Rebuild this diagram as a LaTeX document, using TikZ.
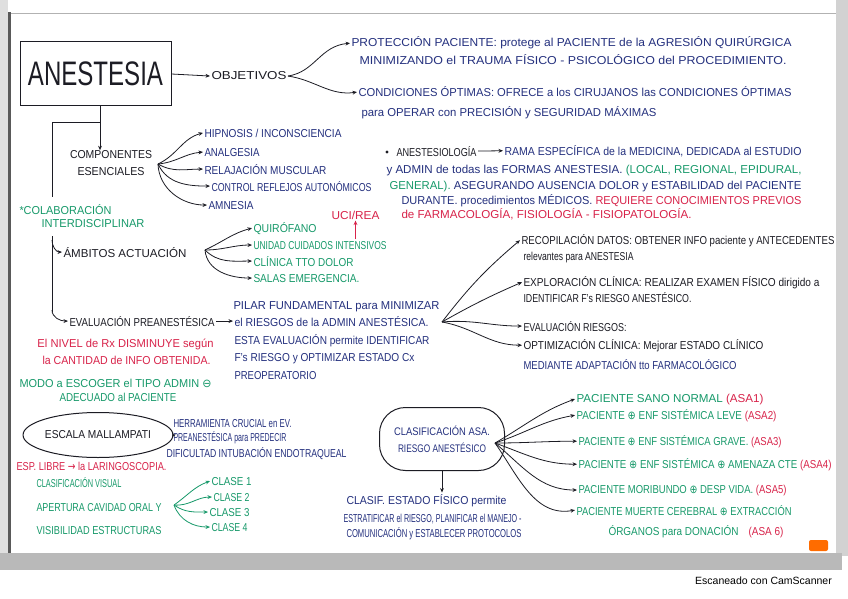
\documentclass[tikz,border=0pt]{standalone}
\usepackage{graphicx}
\usepackage{fontspec}
\setmainfont{Liberation Sans}
\newfontfamily\symf{DejaVu Sans}
\usetikzlibrary{arrows.meta,shapes.geometric}
\definecolor{ink}{HTML}{1C1C24}
\definecolor{navy}{HTML}{24307E}
\definecolor{grn}{HTML}{17996A}
\definecolor{rd}{HTML}{D8234A}
\newcommand\tw[2]{\resizebox{#1pt}{\height}{#2}}
\newcommand\opl{{\symf ⊕}}
\newcommand\omi{{\symf ⊖}}
\newcommand\rarr{{\symf →}}
\begin{document}
\begin{tikzpicture}[x=1pt,y=-1pt,
  t/.style={inner sep=0pt,outer sep=1.5pt,anchor=base west,font=\fontsize{11.5}{13}\selectfont},
  ar/.style={-{Stealth[length=4.5pt,width=3.8pt]},line width=0.8pt},
  ln/.style={line width=0.9pt}]
\useasboundingbox (0,0) rectangle (848,599);
% board and frame
\fill[white] (0,0) rectangle (848,599);
\fill[gray!25] (0,0) rectangle (8,555);
\fill[gray!70!black] (8,12) rectangle (11,555);
\fill[gray!35] (836,0) rectangle (848,556);
\draw[gray!60,line width=1pt] (11,14) -- (836,14);
\fill[gray!55] (0,553) rectangle (842,570);
\fill[orange!85!red, rounded corners=2pt] (809,540) rectangle (828,551);

% ---------- title and objectives ----------
\node[draw=ink,line width=1pt,minimum width=151pt,minimum height=64pt,inner sep=0pt,
      font=\fontsize{34}{36}\selectfont,text=ink] (box) at (95.5,74) {\tw{135}{ANESTESIA}};
\node[t,text=ink] (obj) at (210,80) {\tw{75}{OBJETIVOS}};
\node[t,text=navy] (p1) at (350,47) {\tw{440}{PROTECCIÓN PACIENTE: protege al PACIENTE de la AGRESIÓN QUIRÚRGICA}};
\node[t,text=navy] (p2) at (358,65) {\tw{427}{MINIMIZANDO el TRAUMA FÍSICO - PSICOLÓGICO del PROCEDIMIENTO.}};
\node[t,text=navy] (c1) at (357,97) {\tw{433}{CONDICIONES ÓPTIMAS: OFRECE a los CIRUJANOS las CONDICIONES ÓPTIMAS}};
\node[t,text=navy] (c2) at (360,117) {\tw{295}{para OPERAR con PRECISIÓN y SEGURIDAD MÁXIMAS}};
\draw[ar,ink] (box.east) -- (obj.west);
\draw[ar,ink] (obj.east) .. controls (315,72) and (320,46) .. (p1.west);
\draw[ar,ink] (obj.east) .. controls (315,80) and (330,96) .. (c1.west);

% ---------- left trunk ----------
\coordinate (jb) at (100,122);
\coordinate (jl) at (52,122);
\node[inner sep=0pt,align=center,text=ink,font=\fontsize{11.5}{17}\selectfont] (comp) at (111,163)
  {\tw{82}{COMPONENTES}\\\tw{67}{ESENCIALES}};
\draw[ln,ink] (box.south -| jb) -- (jb) -- (jl) -- (52,197);
\draw[ar,ink] (jb) -- (jb |- comp.north);

\node[t,text=navy] (hip) at (203,137) {\tw{137}{HIPNOSIS / INCONSCIENCIA}};
\node[t,text=navy] (ana) at (203,156) {\tw{55}{ANALGESIA}};
\node[t,text=navy] (rel) at (203,174) {\tw{122}{RELAJACIÓN MUSCULAR}};
\node[t,text=navy] (con) at (210,191) {\tw{160}{CONTROL REFLEJOS AUTONÓMICOS}};
\node[t,text=navy] (amn) at (207,209) {\tw{45}{AMNESIA}};
\coordinate (cf) at (158,164);
\draw[ar,ink] (cf) to[out=25,in=195] (hip.west);
\draw[ar,ink] (cf) to[out=5,in=185] (ana.west);
\draw[ar,ink] (cf) to[out=-30,in=180] (rel.west);
\draw[ar,ink] (cf) to[out=-65,in=180] (con.west);
\draw[ar,ink] (cf) to[out=-88,in=180] (amn.west);

\node[t,text=grn] (col1) at (18,214) {\tw{92}{*COLABORACIÓN}};
\node[t,text=grn] (col2) at (40,227) {\tw{103}{INTERDISCIPLINAR}};

% ---------- anestesiologia ----------
\fill[ink] (387,152) circle (1.6pt);
\node[t,text=ink] (anes) at (395,156) {\tw{80}{ANESTESIOLOGÍA}};
\node[t,text=navy] (rama) at (503,155) {\tw{297}{RAMA ESPECÍFICA de la MEDICINA, DEDICADA al ESTUDIO}};
\draw[ar,ink] (anes.east) -- (rama.west);
\node[t] (a2) at (385,173) {\tw{415}{\color{navy}y ADMIN de todas las FORMAS ANESTESIA. \color{grn}(LOCAL, REGIONAL, EPIDURAL,}};
\node[t] (a3) at (388,189) {\tw{412}{\color{grn}GENERAL). \color{navy}ASEGURANDO AUSENCIA DOLOR y ESTABILIDAD del PACIENTE}};
\node[t] (a4) at (400,204) {\tw{400}{\color{navy}DURANTE. procedimientos MÉDICOS. \color{rd}REQUIERE CONOCIMIENTOS PREVIOS}};
\node[t,text=rd] (a5) at (400,218) {\tw{290}{de FARMACOLOGÍA, FISIOLOGÍA - FISIOPATOLOGÍA.}};

% ---------- ambitos ----------
\node[t,text=ink] (amb) at (62,257) {\tw{123}{ÁMBITOS ACTUACIÓN}};
\node[t,text=ink] (eva) at (68,326) {\tw{145}{EVALUACIÓN PREANESTÉSICA}};
\draw[ln,ink] (52,236) -- (52,312);
\draw[ar,ink] (52,240) to[out=-90,in=180] (amb.west);
\draw[ar,ink] (52,310) to[out=-90,in=180] (eva.west);

\node[t,text=grn] (qui) at (252,232) {\tw{63}{QUIRÓFANO}};
\node[t,text=grn] (uni) at (252,249) {\tw{133}{UNIDAD CUIDADOS INTENSIVOS}};
\node[t,text=grn] (cli) at (252,266) {\tw{100}{CLÍNICA TTO DOLOR}};
\node[t,text=grn] (sal) at (252,282) {\tw{106}{SALAS EMERGENCIA.}};
\node[t,text=rd] (uci) at (330,219) {\tw{48}{UCI/REA}};
\coordinate (fa) at (205,250);
\draw[ar,ink] (fa) to[out=25,in=195] (qui.west);
\draw[ar,ink] (fa) to[out=0,in=180] (uni.west);
\draw[ar,ink] (fa) to[out=-45,in=180] (cli.west);
\draw[ar,ink] (fa) to[out=-85,in=180] (sal.west);
\draw[ar,rd] (uci.south |- uni.north) -- (uci.south);

% ---------- evaluacion ----------
\node[t,text=navy] (b1) at (232,309) {\tw{206}{PILAR FUNDAMENTAL para MINIMIZAR}};
\node[t,text=navy] (b2) at (233,326) {\tw{194}{el RIESGOS de la ADMIN ANESTÉSICA.}};
\node[t,text=navy] (b3) at (233,344) {\tw{195}{ESTA EVALUACIÓN permite IDENTIFICAR}};
\node[t,text=navy] (b4) at (233,361) {\tw{180}{F's RIESGO y OPTIMIZAR ESTADO Cx}};
\node[t,text=navy] (b5) at (233,379) {\tw{82}{PREOPERATORIO}};
\draw[ar,ink] (eva.east) -- (b2.west);

\node[t,text=ink] (rec1) at (520,244) {\tw{313}{RECOPILACIÓN DATOS: OBTENER INFO paciente y ANTECEDENTES}};
\node[t,text=ink] (rec2) at (522,260) {\tw{110}{relevantes para ANESTESIA}};
\node[t,text=ink] (exp1) at (522,286) {\tw{296}{EXPLORACIÓN CLÍNICA: REALIZAR EXAMEN FÍSICO dirigido a}};
\node[t,text=ink] (exp2) at (522,302) {\tw{168}{IDENTIFICAR F's RIESGO ANESTÉSICO.}};
\node[t,text=ink] (evr) at (522,331) {\tw{103}{EVALUACIÓN RIESGOS:}};
\node[t,text=ink] (opt1) at (522,349) {\tw{240}{OPTIMIZACIÓN CLÍNICA: Mejorar ESTADO CLÍNICO}};
\node[t,text=navy] (opt2) at (522,369) {\tw{213}{MEDIANTE ADAPTACIÓN tto FARMACOLÓGICO}};
\coordinate (fe) at (442,322);
\draw[ar,ink] (fe) to[bend left=6] (rec1.west);
\draw[ar,ink] (fe) to[bend left=3] (exp1.west);
\draw[ar,ink] (fe) to[out=5,in=180] (evr.west);
\draw[ar,ink] (fe) to[out=-10,in=180] (opt1.west);

\node[t,text=rd] (r1) at (36,347) {\tw{176}{El NIVEL de Rx DISMINUYE según}};
\node[t,text=rd] (r2) at (41,364) {\tw{168}{la CANTIDAD de INFO OBTENIDA.}};
\node[t,text=grn] (g1) at (18,387) {\tw{192}{MODO a ESCOGER el TIPO ADMIN \omi}};
\node[t,text=grn] (g2) at (58,401) {\tw{117}{ADECUADO al PACIENTE}};

% ---------- Mallampati ----------
\node[draw=ink,ellipse,line width=1pt,minimum width=132pt,minimum height=45pt,inner sep=0pt,
      text=ink,font=\fontsize{11.5}{13}\selectfont] (mal) at (98,435) {\tw{106}{ESCALA MALLAMPATI}};
\node[t,text=navy] (h1) at (172,427) {\tw{118}{HERRAMIENTA CRUCIAL en EV.}};
\node[t,text=navy] (h2) at (172,441) {\tw{113}{PREANESTÉSICA para PREDECIR}};
\node[t,text=navy] (h3) at (165,457) {\tw{180}{DIFICULTAD INTUBACIÓN ENDOTRAQUEAL}};
\draw[ar,ink] (mal.east) -- (h2.west);
\node[t,text=rd] (esp) at (15,470) {\tw{150}{ESP. LIBRE \rarr{} la LARINGOSCOPIA.}};
\node[t,text=grn] (v1) at (35,487) {\tw{85}{CLASIFICACIÓN VISUAL}};
\node[t,text=grn] (v2) at (35,511) {\tw{125}{APERTURA CAVIDAD ORAL Y}};
\node[t,text=grn] (v3) at (35,534) {\tw{125}{VISIBILIDAD ESTRUCTURAS}};
\node[t,text=grn] (k1) at (210,485) {\tw{40}{CLASE 1}};
\node[t,text=grn] (k2) at (212,501) {\tw{36}{CLASE 2}};
\node[t,text=grn] (k3) at (208,516) {\tw{40}{CLASE 3}};
\node[t,text=grn] (k4) at (210,531) {\tw{36}{CLASE 4}};
\coordinate (fk) at (174,505);
\draw[ar,grn] (fk) to[out=35,in=200] (k1.west);
\draw[ar,grn] (fk) to[out=-5,in=180] (k2.west);
\draw[ar,grn] (fk) to[out=-35,in=180] (k3.west);
\draw[ar,grn] (fk) to[out=-70,in=180] (k4.west);

% ---------- ASA ----------
\node[draw=ink,rounded corners=26pt,line width=1pt,minimum width=125pt,minimum height=63pt,inner sep=0pt,
      align=center,text=navy,font=\fontsize{11}{17}\selectfont] (asa) at (442,439)
  {\tw{96}{CLASIFICACIÓN ASA.}\\\tw{88}{RIESGO ANESTÉSICO}};
\node[t,text=navy] (l1) at (345,504) {\tw{160}{CLASIF. ESTADO FÍSICO permite}};
\node[t,text=navy] (l2) at (342,522) {\tw{178}{ESTRATIFICAR el RIESGO, PLANIFICAR el MANEJO -}};
\node[t,text=navy] (l3) at (345,537) {\tw{175}{COMUNICACIÓN y ESTABLECER PROTOCOLOS}};
\draw[ar,ink] (asa.south) -- (asa.south |- l1.north);

\node[t] (s1) at (575,402) {\tw{187}{\color{grn}PACIENTE SANO NORMAL \color{rd}(ASA1)}};
\node[t] (s2) at (575,419) {\tw{200}{\color{grn}PACIENTE \opl{} ENF SISTÉMICA LEVE \color{rd}(ASA2)}};
\node[t] (s3) at (577,445) {\tw{203}{\color{grn}PACIENTE \opl{} ENF SISTÉMICA GRAVE. \color{rd}(ASA3)}};
\node[t] (s4) at (577,468) {\tw{253}{\color{grn}PACIENTE \opl{} ENF SISTÉMICA \opl{} AMENAZA CTE \color{rd}(ASA4)}};
\node[t] (s5) at (577,493) {\tw{208}{\color{grn}PACIENTE MORIBUNDO \opl{} DESP VIDA. \color{rd}(ASA5)}};
\node[t,text=grn] (s6) at (575,515) {\tw{215}{PACIENTE MUERTE CEREBRAL \opl{} EXTRACCIÓN}};
\node[t] (s7) at (607,535) {\tw{175}{\color{grn}ÓRGANOS para DONACIÓN\quad\color{rd}(ASA 6)}};
\coordinate (fs) at (495,443);
\draw[ar,ink] (fs) to[out=30,in=200] (s1.west);
\draw[ar,ink] (fs) to[out=18,in=190] (s2.west);
\draw[ar,ink] (fs) to[out=0,in=180] (s3.west);
\draw[ar,ink] (fs) to[out=-20,in=180] (s4.west);
\draw[ar,ink] (fs) to[out=-40,in=180] (s5.west);
\draw[ar,ink] (fs) to[out=-55,in=190] (s6.west);

% ---------- scanner caption ----------
\node[inner sep=0pt,anchor=base east,font=\fontsize{10.5}{12}\selectfont,text=black] (cap) at (832,584) {Escaneado con CamScanner};
\end{tikzpicture}
\end{document}
